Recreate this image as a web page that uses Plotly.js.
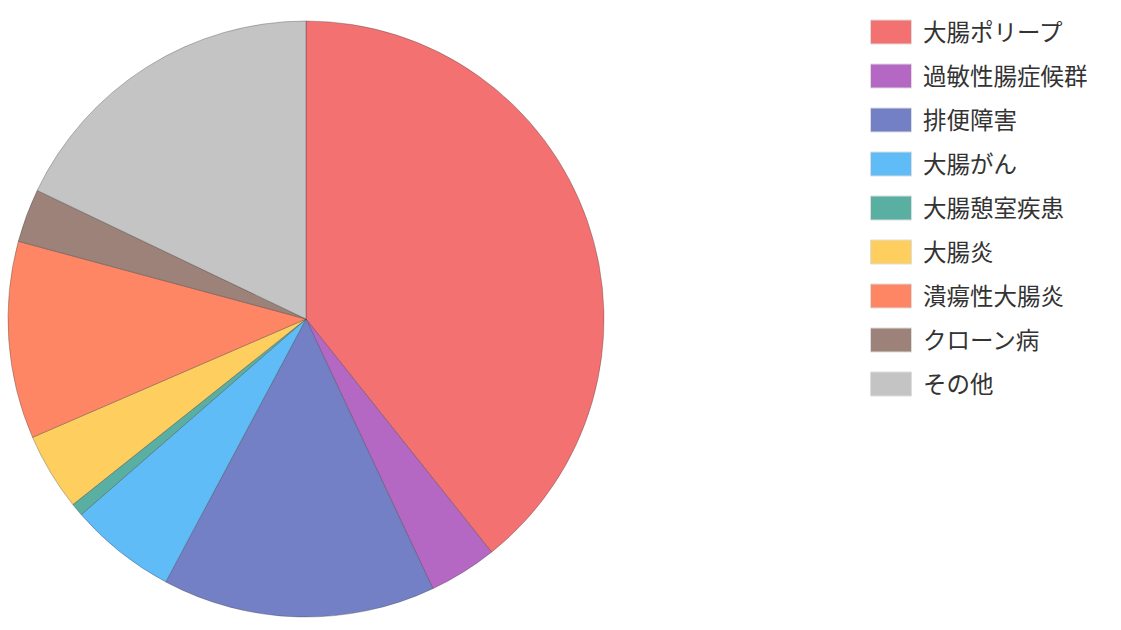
<!DOCTYPE html>
<html>
<head>
<meta charset="utf-8">
<script src="https://cdn.plot.ly/plotly-3.0.1.min.js"></script>
<style>html,body{margin:0;padding:0;background:#fff;}#chart{width:1121px;height:630px;}</style>
</head>
<body>
<div id="chart"></div>
<script>
const categories = ["大腸ポリープ", "過敏性腸症候群", "排便障害", "大腸がん", "大腸憩室疾患", "大腸炎", "潰瘍性大腸炎", "クローン病", "その他"];
const values = [39.3, 3.7, 14.8, 5.8, 0.7, 4.2, 10.7, 2.9, 17.9];
const colors = ["#F37171", "#B567C4", "#7480C6", "#5FBCF7", "#5AAFA3", "#FECE5E", "#FF8665", "#9C8278", "#C4C4C4"];

const W = 1121, H = 630;
const px = x => x / W;
const py = y => 1 - y / H;

const shapes = [];
const annotations = [];
categories.forEach((c, i) => {
  const cy = 32 + i * 44;
  shapes.push({
    type: "rect", xref: "paper", yref: "paper",
    x0: px(870.5), x1: px(911.5), y0: py(cy - 12), y1: py(cy + 12),
    fillcolor: colors[i], line: {color: "#dddddd", width: 1}
  });
  annotations.push({
    xref: "paper", yref: "paper", x: px(921), y: py(cy - 1),
    xanchor: "left", yanchor: "middle", showarrow: false,
    text: c, font: {family: "Noto Sans CJK JP", size: 23.5, color: "#333333"}
  });
});

const data = [{
  type: "pie",
  labels: categories,
  values: values,
  sort: false,
  direction: "clockwise",
  rotation: 0,
  textinfo: "none",
  hoverinfo: "label+percent",
  marker: {colors: colors, line: {color: "rgba(60,60,60,0.35)", width: 1}},
  domain: {x: [0, 612 / W], y: [13 / H, 609 / H]},
  showlegend: false
}];

const layout = {
  width: W, height: H,
  margin: {l: 0, r: 0, t: 0, b: 0},
  paper_bgcolor: "#ffffff",
  showlegend: false,
  shapes: shapes,
  annotations: annotations,
  font: {family: "Noto Sans CJK JP"}
};

Plotly.newPlot("chart", data, layout, {displayModeBar: false, staticPlot: true});
</script>
</body>
</html>
